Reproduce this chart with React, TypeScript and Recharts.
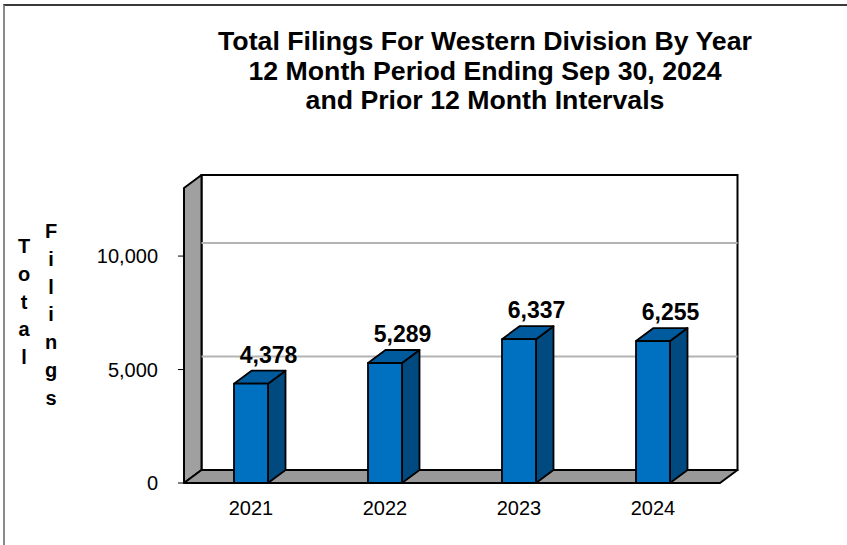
import React from 'react';
import { BarChart, Bar, XAxis, YAxis, ReferenceArea, ReferenceLine, LabelList } from 'recharts';

const years = ['2021', '2022', '2023', '2024'];
const filings = [4378, 5289, 6337, 6255];
const yTicks = [0, 5000, 10000];
const gridValues = [5000, 10000];
const yDomain = [0, 13000];
const edgeTicks = [0, 1, 2, 3, 4];
const titleLines = [
  'Total Filings For Western Division By Year',
  '12 Month Period Ending Sep 30, 2024',
  'and Prior 12 Month Intervals',
];
const yTitleWords = ['Total', 'Filings'];

const data = years.map((year, i) => ({ year, filings: filings[i] }));

const FONT = '"Liberation Sans", Arial, Helvetica, sans-serif';
const DX = 17.5;
const DY = -13;
const FRONT = '#0070C0';
const TOP = '#005A9E';
const SIDE = '#004A80';

const fmt = (v: number) => v.toLocaleString('en-US');

const Walls = (props: any) => {
  const { x, y, width, height } = props;
  const b = y + height;
  return (
    <g>
      <rect x={x + DX} y={y + DY} width={width} height={height} fill="#ffffff" stroke="#000" strokeWidth={2} />
      <polygon
        points={`${x},${b} ${x},${y} ${x + DX},${y + DY} ${x + DX},${b + DY}`}
        fill="#A0A0A0"
        stroke="#000"
        strokeWidth={2}
        strokeLinejoin="round"
      />
      <polygon
        points={`${x},${b} ${x + DX},${b + DY} ${x + width + DX},${b + DY} ${x + width},${b}`}
        fill="#999999"
        stroke="#000"
        strokeWidth={2}
        strokeLinejoin="round"
      />
    </g>
  );
};

const BackGrid = (props: any) => {
  const { x1, y1, x2, y2 } = props;
  return <line x1={x1 + DX} y1={y1 + DY} x2={x2 + DX} y2={y2 + DY} stroke="#B4B4B4" strokeWidth={2} />;
};

const Box = (props: any) => {
  const { x, y, width, height } = props;
  if (height == null || height <= 0) return null;
  const b = y + height;
  return (
    <g stroke="#000" strokeWidth={1.8} strokeLinejoin="round">
      <polygon points={`${x + width},${y} ${x + width + DX},${y + DY} ${x + width + DX},${b + DY} ${x + width},${b}`} fill={SIDE} />
      <polygon points={`${x},${y} ${x + DX},${y + DY} ${x + width + DX},${y + DY} ${x + width},${y}`} fill={TOP} />
      <rect x={x} y={y} width={width} height={height} fill={FRONT} />
    </g>
  );
};

const ValueLabel = (props: any) => {
  const { x, y, width, value } = props;
  return (
    <text
      x={x + width / 2 + DX}
      y={y + DY - 8}
      textAnchor="middle"
      fontFamily={FONT}
      fontWeight="bold"
      fontSize={23}
      fill="#000"
    >
      {fmt(value)}
    </text>
  );
};

export default function App() {
  return (
    <div style={{ position: 'absolute', left: 0, top: 0, width: 847, height: 545, overflow: 'hidden', background: '#fff' }}>
      <div
        style={{
          position: 'absolute',
          left: 3,
          top: 4,
          width: 900,
          height: 600,
          borderLeft: '2px solid #8a8a8a',
          borderTop: '2px solid #3a3a3a',
          boxSizing: 'border-box',
        }}
      />
      <div style={{ position: 'absolute', left: 0, top: 0 }}>
        <BarChart width={847} height={545} data={data} margin={{ top: 188, right: 127, bottom: 0, left: 0 }}>
          <XAxis
            xAxisId="edge"
            type="number"
            domain={[0, 4]}
            ticks={edgeTicks}
            allowDataOverflow
            height={0}
            tick={false}
            tickSize={6}
            axisLine={{ stroke: '#000', strokeWidth: 2 }}
            tickLine={{ stroke: '#000', strokeWidth: 1 }}
          />
          <XAxis
            xAxisId="cat"
            dataKey="year"
            height={62}
            axisLine={false}
            tickLine={false}
            tickSize={0}
            tickMargin={18}
            tick={{ fill: '#000', fontSize: 20, fontFamily: FONT }}
          />
          <YAxis
            width={184}
            domain={yDomain}
            ticks={yTicks}
            interval={0}
            tickFormatter={fmt}
            tickSize={6}
            tickMargin={20}
            axisLine={{ stroke: '#000', strokeWidth: 2 }}
            tickLine={{ stroke: '#000', strokeWidth: 1 }}
            tick={{ fill: '#000', fontSize: 20, fontFamily: FONT }}
          />
          <ReferenceArea xAxisId="cat" y1={yDomain[0]} y2={yDomain[1]} shape={<Walls />} zIndex={-90} ifOverflow="visible" />
          {gridValues.map((v) => (
            <ReferenceLine key={v} xAxisId="cat" y={v} shape={<BackGrid />} zIndex={-80} ifOverflow="visible" />
          ))}
          <Bar xAxisId="cat" dataKey="filings" barSize={34} shape={<Box />} isAnimationActive={false}>
            <LabelList dataKey="filings" content={<ValueLabel />} />
          </Bar>
        </BarChart>
      </div>
      <svg width={847} height={545} style={{ position: 'absolute', left: 0, top: 0, pointerEvents: 'none' }}>
        {titleLines.map((line, i) => (
          <text key={i} x={485} y={50 + i * 29.5} textAnchor="middle" fontFamily={FONT} fontWeight="bold" fontSize={26.7} fill="#000">
            {line}
          </text>
        ))}
        {yTitleWords.map((word, w) =>
          word.split('').map((ch, i) => (
            <text
              key={`${w}-${i}`}
              x={w === 0 ? 24 : 51}
              y={(w === 0 ? 253 : 238) + i * 27.8}
              textAnchor="middle"
              fontFamily={FONT}
              fontWeight="bold"
              fontSize={20}
              fill="#000"
            >
              {ch}
            </text>
          ))
        )}
      </svg>
    </div>
  );
}
